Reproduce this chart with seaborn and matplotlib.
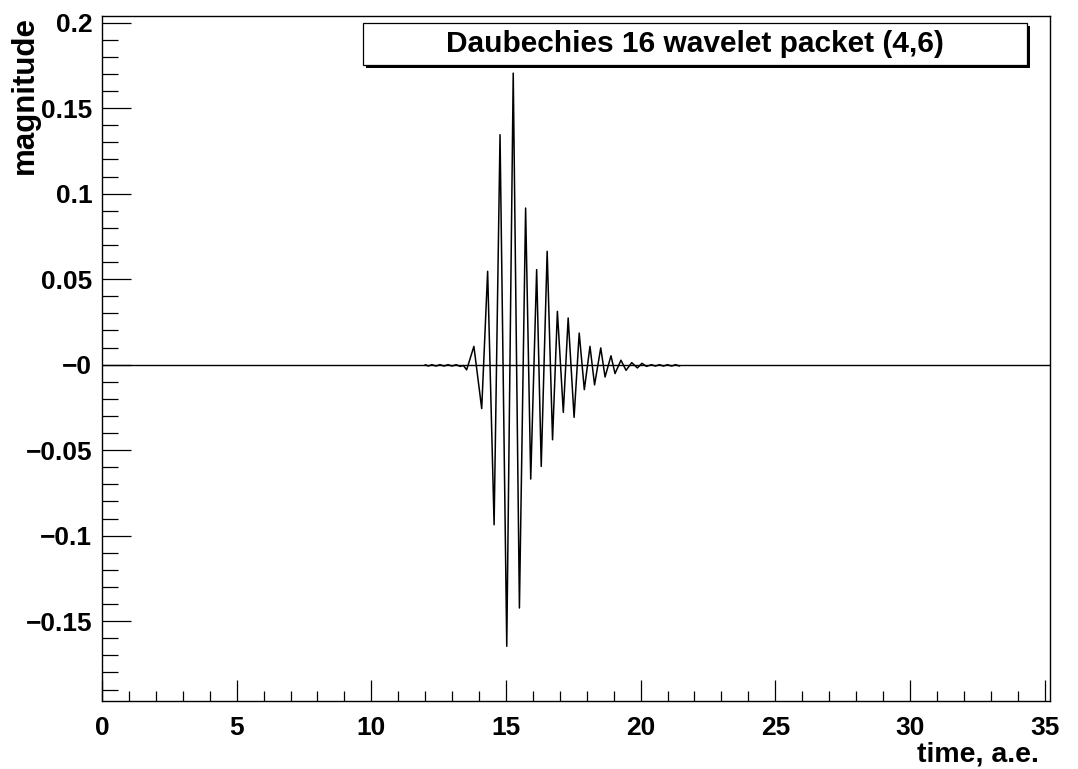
import matplotlib
matplotlib.use('Agg')
import matplotlib.pyplot as plt
import seaborn as sns
import pandas as pd
from matplotlib.patches import Rectangle
from matplotlib.ticker import FixedLocator, FixedFormatter

# ---- data ----
time_pts = [12.00, 12.12, 12.25, 12.40, 12.55, 12.70, 12.85, 13.00, 13.15, 13.30,
            13.42, 13.54, 13.81, 14.10, 14.32, 14.56, 14.78, 15.03, 15.27, 15.50,
            15.73, 15.92, 16.14, 16.31, 16.53, 16.73, 16.91, 17.13, 17.31, 17.53,
            17.72, 17.91, 18.12, 18.29, 18.52, 18.68, 18.90, 19.05, 19.27, 19.46,
            19.67, 19.88, 20.05, 20.22, 20.40, 20.55, 20.70, 20.85, 21.00, 21.15,
            21.30, 21.45]
magnitude_pts = [0.0, -0.0008, 0.0, -0.0008, 0.0, -0.0008, 0.0, -0.0008, 0.0, -0.001,
                 -0.0005, -0.003, 0.0107, -0.0257, 0.0546, -0.0936, 0.1345, -0.1647, 0.1705, -0.1423,
                 0.0916, -0.0669, 0.0556, -0.0595, 0.0663, -0.0439, 0.0312, -0.0279, 0.0273, -0.0308,
                 0.0185, -0.0146, 0.0107, -0.0118, 0.0098, -0.0072, 0.0052, -0.0052, 0.0026, -0.0033,
                 0.0012, -0.0019, 0.0008, -0.001, 0.0, -0.0008, 0.0, -0.0008, 0.0, -0.0008,
                 0.0, -0.0008]

title_text = "Daubechies 16 wavelet packet (4,6)"
x_label = "time, a.e."
y_label = "magnitude"
x_major = [0, 5, 10, 15, 20, 25, 30, 35]
x_tick_labels = ["0", "5", "10", "15", "20", "25", "30", "35"]
x_minor = list(range(0, 36))
y_major = [-0.15, -0.1, -0.05, 0.0, 0.05, 0.1, 0.15, 0.2]
y_tick_labels = ["\u22120.15", "\u22120.1", "\u22120.05", "\u22120", "0.05", "0.1", "0.15", "0.2"]
y_minor = [round(-0.19 + 0.01 * i, 2) for i in range(40)]

df = pd.DataFrame({"time": time_pts, "magnitude": magnitude_pts})

sns.set_theme(style="white")
plt.rcParams['font.family'] = ['Liberation Sans', 'DejaVu Sans']
plt.rcParams['font.weight'] = 'bold'

fig = plt.figure(figsize=(10.78, 7.69), dpi=100)
fig.patch.set_facecolor('white')
ax = fig.add_axes([0.0946, 0.0884, 0.8794, 0.8912])
ax.set_facecolor('white')

ax.axhline(0, color='black', lw=1.0, zorder=2)
sns.lineplot(data=df, x="time", y="magnitude", ax=ax, color='black',
             linewidth=1.1, estimator=None, sort=False, zorder=3)

ax.set_xlim(0, 35.2)
ax.set_ylim(-0.1967, 0.2041)

ax.xaxis.set_major_locator(FixedLocator(x_major))
ax.xaxis.set_major_formatter(FixedFormatter(x_tick_labels))
ax.xaxis.set_minor_locator(FixedLocator(x_minor))
ax.yaxis.set_major_locator(FixedLocator(y_major))
ax.yaxis.set_major_formatter(FixedFormatter(y_tick_labels))
ax.yaxis.set_minor_locator(FixedLocator(y_minor))

ax.tick_params(axis='both', which='both', direction='in', colors='black',
               width=0.9, bottom=True, left=True, top=False, right=False, labelsize=19)
ax.tick_params(axis='y', which='major', length=21, pad=7)
ax.tick_params(axis='y', which='minor', length=11.5)
ax.tick_params(axis='x', which='major', length=15, pad=11)
ax.tick_params(axis='x', which='minor', length=7.5)
for lab in ax.get_xticklabels() + ax.get_yticklabels():
    lab.set_fontweight('bold')

for sp in ax.spines.values():
    sp.set_visible(True)
    sp.set_color('black')
    sp.set_linewidth(1.0)

ax.set_xlabel(x_label, fontsize=20.5, fontweight='bold', color='black')
ax.xaxis.label.set_horizontalalignment('right')
ax.xaxis.label.set_verticalalignment('top')
ax.xaxis.set_label_coords(0.988, -0.0594)

ax.set_ylabel(y_label, fontsize=22.5, fontweight='bold', color='black')
ax.yaxis.label.set_horizontalalignment('right')
ax.yaxis.label.set_verticalalignment('center')
ax.yaxis.set_label_coords(-0.0815, 1.0)

# title box with shadow
bx0, by0, bw, bh = 0.275, 0.928, 0.7004, 0.0618
ax.add_patch(Rectangle((bx0 + 0.0032, by0 - 0.0044), bw, bh, transform=ax.transAxes,
                       facecolor='black', edgecolor='black', lw=0, clip_on=False, zorder=5))
ax.add_patch(Rectangle((bx0, by0), bw, bh, transform=ax.transAxes,
                       facecolor='white', edgecolor='black', lw=0.9, clip_on=False, zorder=6))
ax.text(bx0 + bw / 2, by0 + bh / 2, title_text, transform=ax.transAxes,
        ha='center', va='center', fontsize=21.5, fontweight='bold', color='black', zorder=7)

fig.savefig('out.png', dpi=100, facecolor='white')
